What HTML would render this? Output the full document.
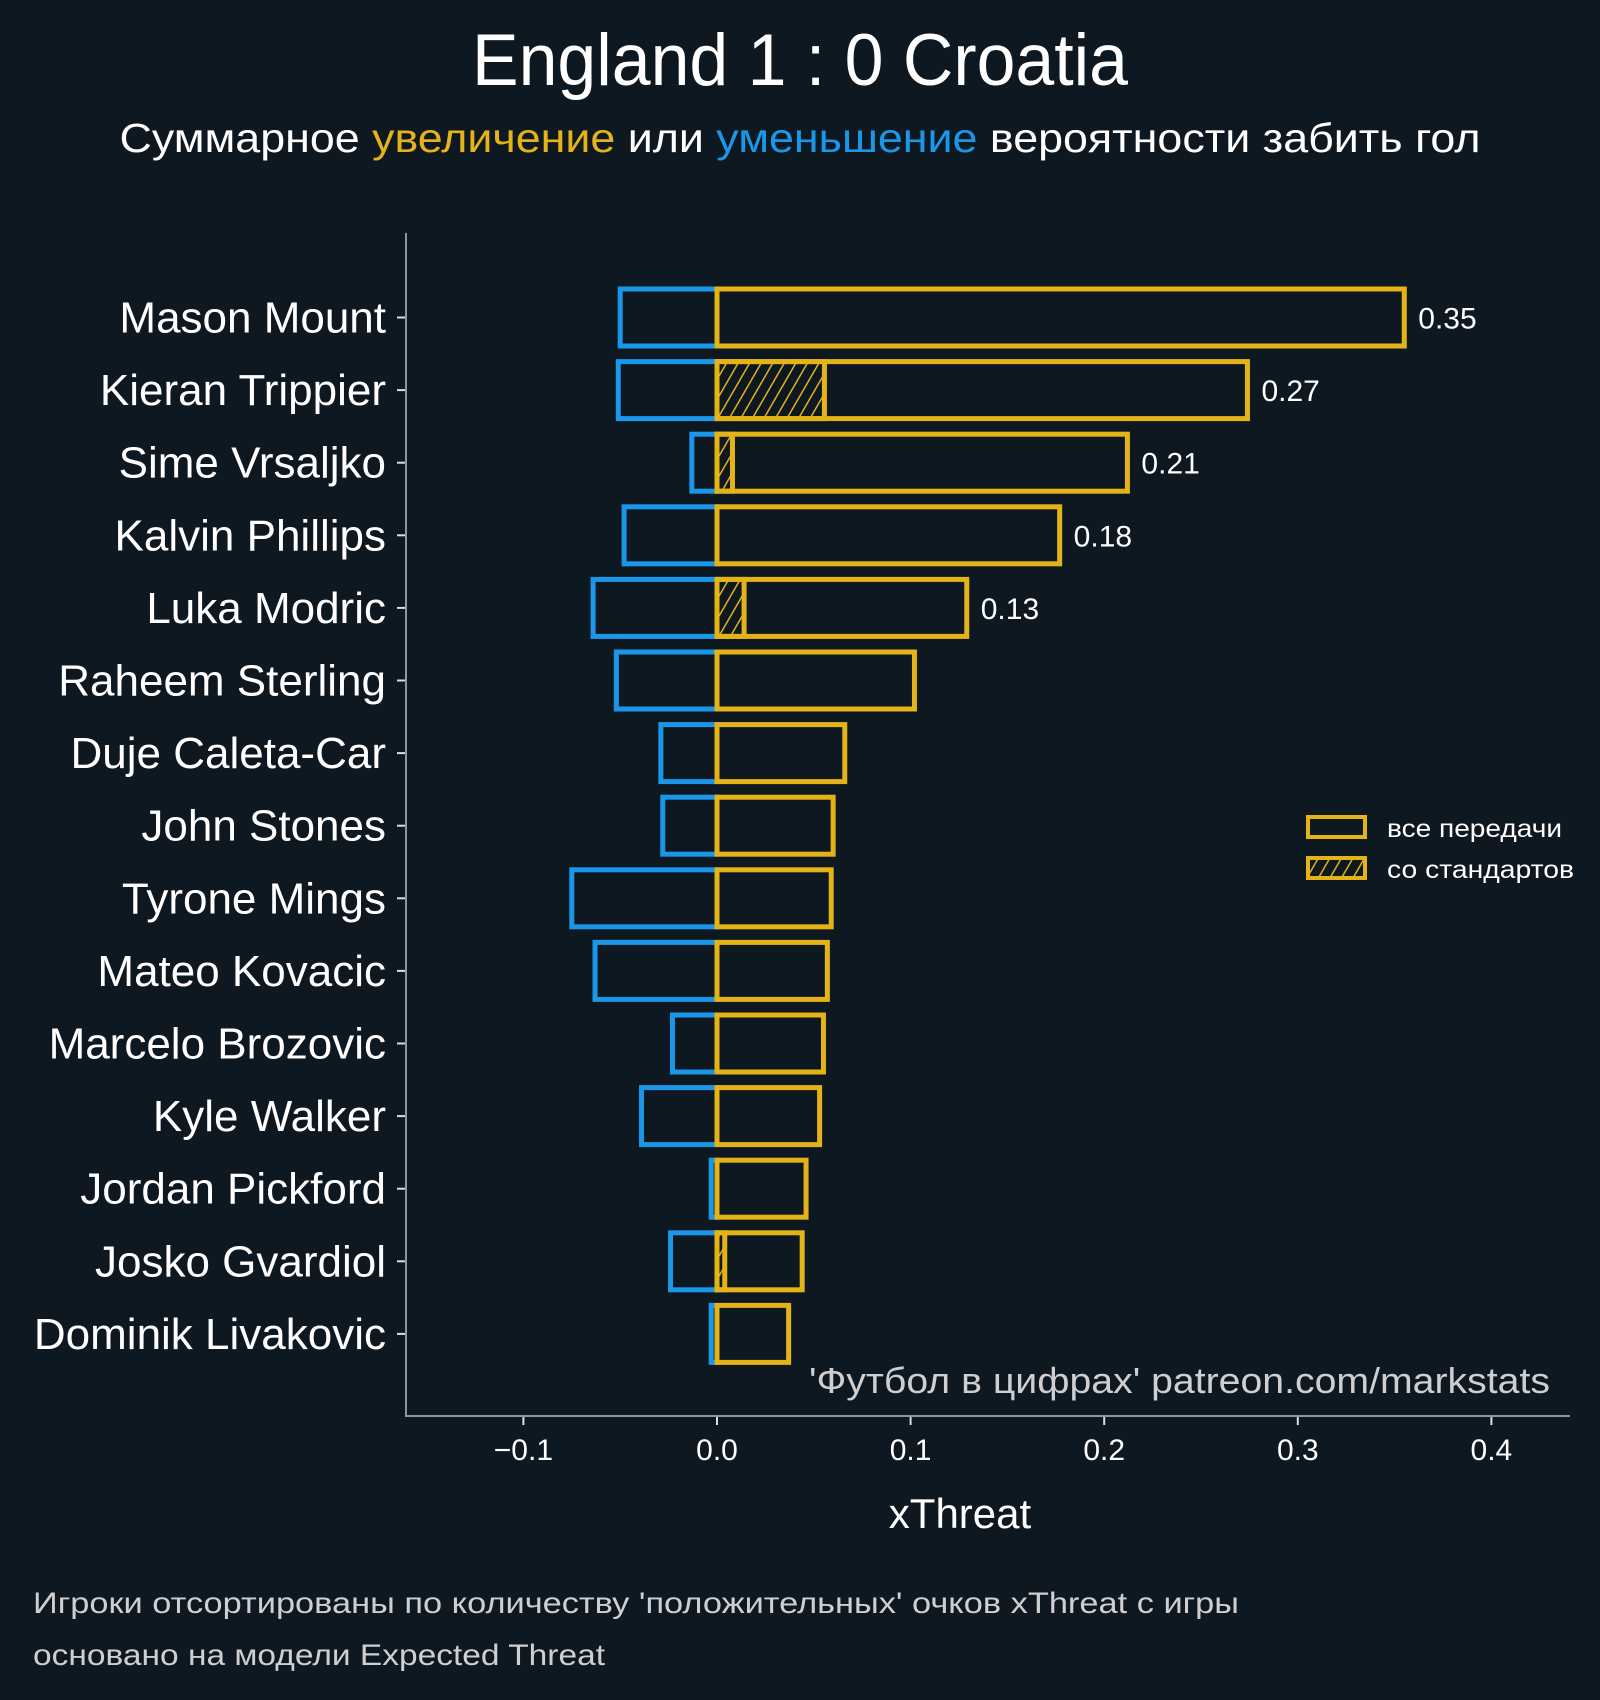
<!DOCTYPE html>
<html><head><meta charset="utf-8"><style>
html,body{margin:0;padding:0;background:#0e1821;}
svg{display:block;font-family:"Liberation Sans","Noto Sans CJK SC",sans-serif;}
</style></head><body>
<svg id="chart" width="1600" height="1700" viewBox="0 0 1600 1700">
<defs>
<pattern id="hatch" patternUnits="userSpaceOnUse" width="10" height="10" patternTransform="rotate(30)">
<rect width="10" height="10" fill="#0e1821"/>
<line x1="0" y1="0" x2="0" y2="10" stroke="#e3b317" stroke-width="3"/>
</pattern>
</defs>
<rect width="1600" height="1700" fill="#0e1821"/>
<text x="800" y="85" text-anchor="middle" fill="#fff" font-size="73" textLength="656" lengthAdjust="spacingAndGlyphs">England 1 : 0 Croatia</text>
<text x="800" y="152" text-anchor="middle" fill="#fff" font-size="41" textLength="1361" lengthAdjust="spacingAndGlyphs">Суммарное <tspan fill="#e3b317">увеличение</tspan> или <tspan fill="#1b97ea">уменьшение</tspan> вероятности забить гол</text>
<g id="plot"></g>
<line x1="406" y1="233" x2="406" y2="1417" stroke="#8a9a9a" stroke-width="2"/>
<line x1="405" y1="1416" x2="1570" y2="1416" stroke="#8a9a9a" stroke-width="2"/>
<g id="xticks"></g>
<text x="960" y="1528" text-anchor="middle" fill="#fff" font-size="42">xThreat</text>
<text x="1550" y="1393" text-anchor="end" fill="#cfcfcf" font-size="36" textLength="741" lengthAdjust="spacingAndGlyphs">'Футбол в цифрах' patreon.com/markstats</text>
<g>
<rect x="1308" y="817" width="57" height="20" fill="none" stroke="#e3b317" stroke-width="4"/>
<text x="1387" y="837" fill="#fff" font-size="25" textLength="175" lengthAdjust="spacingAndGlyphs">все передачи</text>
<rect x="1308" y="858" width="57" height="20" fill="url(#hatch)" stroke="#e3b317" stroke-width="4"/>
<text x="1387" y="878" fill="#fff" font-size="25" textLength="187" lengthAdjust="spacingAndGlyphs">со стандартов</text>
</g>
<text x="33" y="1613" fill="#cfcfcf" font-size="30" textLength="1206" lengthAdjust="spacingAndGlyphs">Игроки отсортированы по количеству 'положительных' очков xThreat с игры</text>
<text x="33" y="1665" fill="#cfcfcf" font-size="30" textLength="572" lengthAdjust="spacingAndGlyphs">основано на модели Expected Threat</text>
</svg>
<script>
const players = ["Mason Mount","Kieran Trippier","Sime Vrsaljko","Kalvin Phillips","Luka Modric","Raheem Sterling","Duje Caleta-Car","John Stones","Tyrone Mings","Mateo Kovacic","Marcelo Brozovic","Kyle Walker","Jordan Pickford","Josko Gvardiol","Dominik Livakovic"];
const positive = [0.355,0.274,0.212,0.177,0.129,0.102,0.066,0.060,0.059,0.057,0.055,0.053,0.046,0.044,0.037];
const negative = [-0.050,-0.051,-0.013,-0.048,-0.064,-0.052,-0.029,-0.028,-0.075,-0.063,-0.023,-0.039,-0.003,-0.024,-0.003];
const setPieces = [0,0.0555,0.008,0,0.014,0,0,0,0,0,0,0,0,0.004,0];
const valueLabels = ["0.35","0.27","0.21","0.18","0.13","","","","","","","","","",""];
const xTicks = [-0.1,0.0,0.1,0.2,0.3,0.4];
const xTickLabels = ["\u22120.1","0.0","0.1","0.2","0.3","0.4"];

const NS="http://www.w3.org/2000/svg";
const xs = v => 717 + v*1936;
const ys = i => 317.5 + i*72.6;
const BH = 57;
function mk(tag, attrs, parent){const e=document.createElementNS(NS,tag);for(const k in attrs)e.setAttribute(k,attrs[k]);parent.appendChild(e);return e;}
const plot=document.getElementById('plot');
const YEL="#e3b317", BLU="#1b97ea";
players.forEach((p,i)=>{
  const y=ys(i);
  const n=mk('rect',{x:xs(negative[i]),y:y-BH/2,width:xs(0)-xs(negative[i]),height:BH,fill:'none',stroke:BLU,'stroke-width':5},plot);
  
  
  if(setPieces[i]>0){
    const h=mk('rect',{x:xs(0),y:y-BH/2,width:xs(setPieces[i])-xs(0),height:BH,fill:'url(#hatch)',stroke:YEL,'stroke-width':5},plot);
    
    
  }
  const r=mk('rect',{x:xs(0),y:y-BH/2,width:xs(positive[i])-xs(0),height:BH,fill:'none',stroke:YEL,'stroke-width':5},plot);
  
  
  if(valueLabels[i]){
    const t=mk('text',{x:xs(positive[i])+14,y:y+11,fill:'#fff','font-size':30},plot);
    
    
    t.textContent=valueLabels[i];
  }
  const tk=mk('line',{x1:397,x2:405,y1:y,y2:y,stroke:'#ddd','stroke-width':2},plot);
  
  
  const l=mk('text',{x:386,y:y+15,'text-anchor':'end',fill:'#fff','font-size':44},plot);
  
  
  l.textContent=p;
});
const xt=document.getElementById('xticks');
xTicks.forEach((v,i)=>{
  const ln=mk('line',{x1:xs(v),x2:xs(v),y1:1417,y2:1425,stroke:'#ddd','stroke-width':2},xt);
  
  
  const t=mk('text',{x:xs(v),y:1460,'text-anchor':'middle',fill:'#fff','font-size':30},xt);
  
  
  t.textContent=xTickLabels[i];
});
</script>
</body></html>
